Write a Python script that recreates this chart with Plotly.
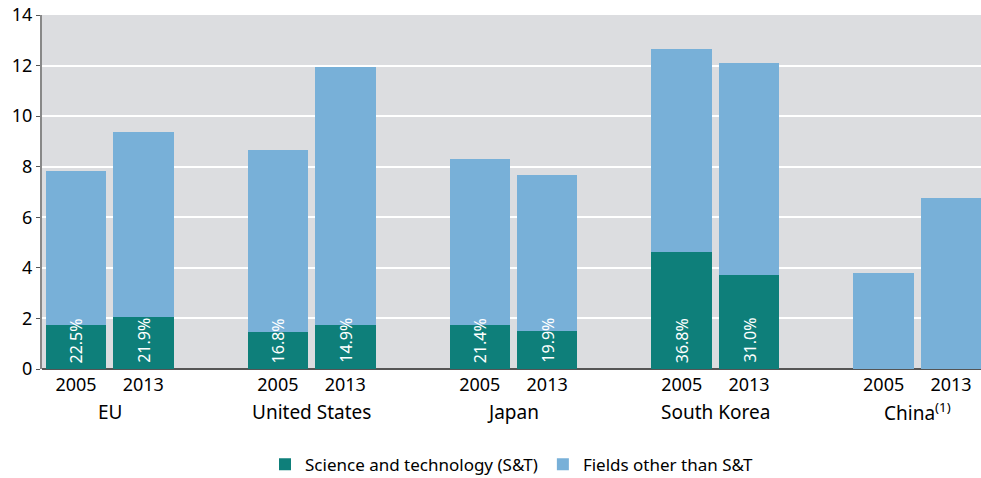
import plotly.graph_objects as go

countries = ["EU", "United States", "Japan", "South Korea", "China<sup>(1)</sup>"]
years = ["2005", "2013"]

# totals and S&T part (millions)
total_2005 = [7.83, 8.66, 8.30, 12.65, 3.79]
total_2013 = [9.37, 11.94, 7.67, 12.09, 6.76]
st_2005 = [1.74, 1.46, 1.74, 4.62, None]
st_2013 = [2.06, 1.74, 1.50, 3.72, None]
share_2005 = ["22.5%", "16.8%", "21.4%", "36.8%", None]
share_2013 = ["21.9%", "14.9%", "19.9%", "31.0%", None]

TEAL = "#0e7f7a"
LIGHT = "#78b0d8"
FONT = "Noto Sans"

xs, st_vals, other_vals, labels, ticktext = [], [], [], [], []
for g in range(len(countries)):
    for j, (tot, st, sh) in enumerate([(total_2005[g], st_2005[g], share_2005[g]),
                                        (total_2013[g], st_2013[g], share_2013[g])]):
        xs.append(3 * g + j)
        st_vals.append(st if st is not None else 0)
        other_vals.append(tot - (st or 0))
        labels.append(sh)
        ticktext.append(years[j])

fig = go.Figure()
fig.add_trace(go.Bar(x=xs, y=st_vals, width=0.9, marker_color=TEAL,
                     marker_line_width=0, name="Science and technology (S&T)"))
fig.add_trace(go.Bar(x=xs, y=other_vals, width=0.9, marker_color=LIGHT,
                     marker_line_width=0, name="Fields other than S&T"))

# S&T share written up the bottom of each bar
for x, lab in zip(xs, labels):
    if lab:
        fig.add_annotation(x=x, y=0, text=lab, textangle=-90, showarrow=False,
                           yanchor="bottom", yshift=4,
                           font=dict(family=FONT, size=16, color="white"))

# country names under the year ticks
for g, c in enumerate(countries):
    fig.add_annotation(x=3 * g + 0.5, xref="x", y=0, yref="paper", yshift=-43,
                       text=c, showarrow=False, yanchor="middle",
                       font=dict(family=FONT, size=19, color="black"))

fig.update_layout(
    width=981, height=478,
    barmode="stack",
    paper_bgcolor="white",
    plot_bgcolor="#dcdde0",
    margin=dict(l=42, r=0, t=15, b=109, autoexpand=False),
    font=dict(family=FONT, size=18, color="black"),
    showlegend=True,
    legend=dict(orientation="h", x=0.5, xanchor="center", y=-0.27, yanchor="middle",
                font=dict(size=17), itemwidth=30, traceorder="normal"),
    xaxis=dict(range=[-0.505, 13.446], tickvals=xs, ticktext=ticktext, automargin=False,
               showgrid=False, zeroline=False, showline=False, ticks="",
               ticklabelstandoff=3),
    yaxis=dict(range=[0, 14], dtick=2, gridcolor="white", gridwidth=1.5, automargin=False,
               zeroline=True, zerolinecolor="#555555", zerolinewidth=2,
               showline=True, linecolor="#888888", linewidth=2,
               ticks="outside", ticklen=4, tickcolor="#555555"),
)

fig.write_html("out.html", config={"displayModeBar": False},
               post_script="document.body.style.margin='0';")
